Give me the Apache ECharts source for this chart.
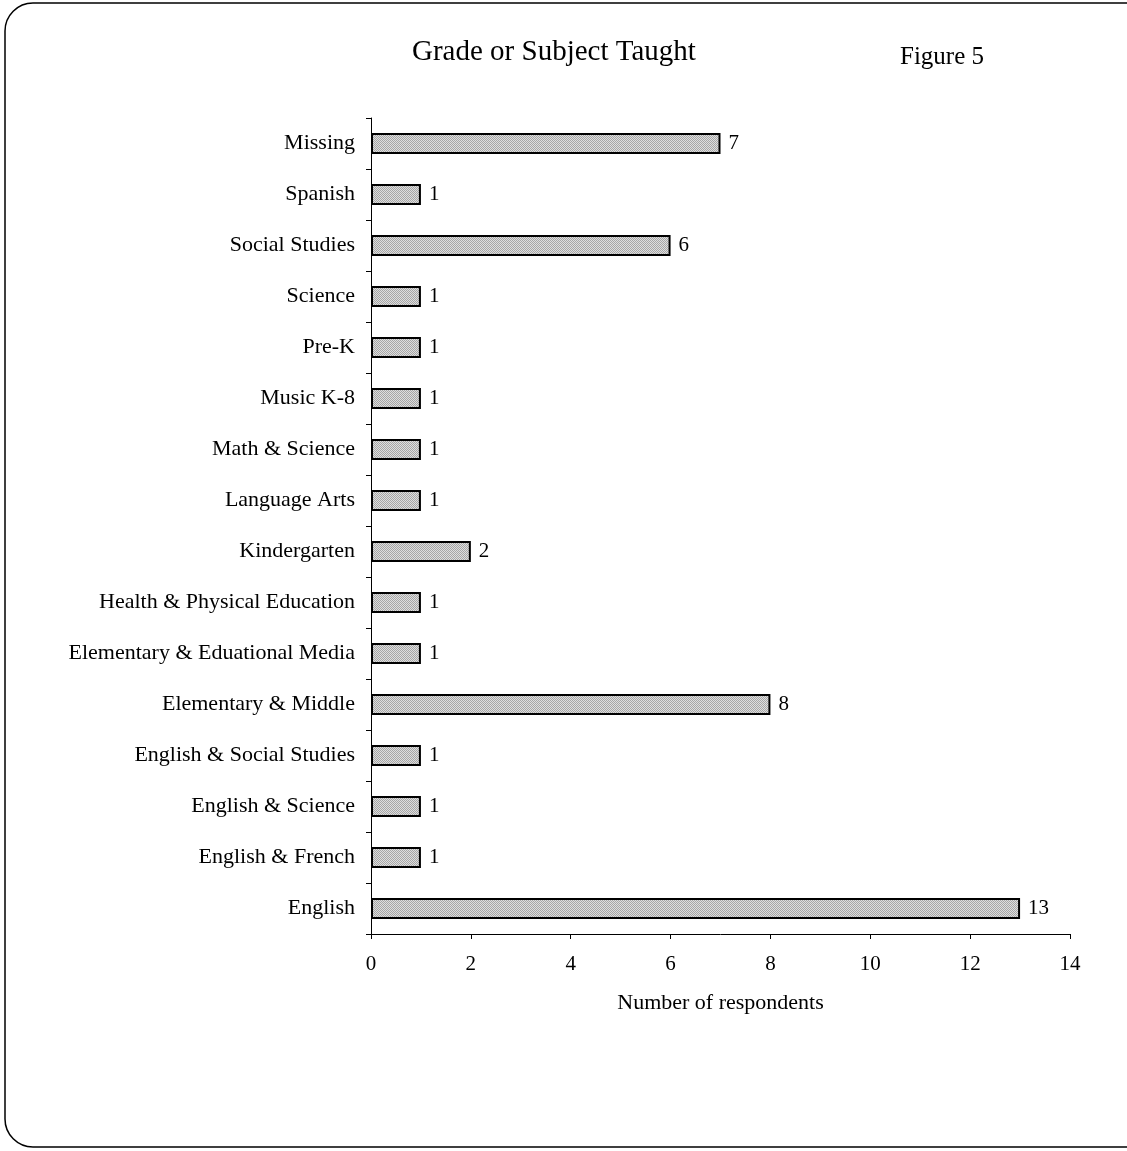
<!DOCTYPE html>
<html>
<head>
<meta charset="utf-8">
<script src="https://cdn.jsdelivr.net/npm/echarts@6/dist/echarts.min.js"></script>
<style>
  html, body { margin: 0; padding: 0; background: #ffffff; }
  #chart { width: 1127px; height: 1151px; }
</style>
</head>
<body>
<div id="chart"></div>
<script>
  // categories listed bottom to top, as the axis draws them
  const categories = [
    'English', 'English & French', 'English & Science', 'English & Social Studies',
    'Elementary & Middle', 'Elementary & Eduational Media', 'Health & Physical Education',
    'Kindergarten', 'Language Arts', 'Math & Science', 'Music K-8', 'Pre-K',
    'Science', 'Social Studies', 'Spanish', 'Missing'
  ];
  const respondents = [13, 1, 1, 1, 8, 1, 1, 2, 1, 1, 1, 1, 1, 6, 1, 7];
  const xTicks = { min: 0, max: 14, interval: 2 };

  // dotted gray fill like the scanned bars
  const pat = document.createElement('canvas');
  pat.width = 2; pat.height = 2;
  const pc = pat.getContext('2d');
  pc.fillStyle = '#dedede'; pc.fillRect(0, 0, 2, 2);
  pc.fillStyle = '#a6a6a6'; pc.fillRect(0, 0, 1, 1); pc.fillRect(1, 1, 1, 1);

  const serif = '"Liberation Serif", "DejaVu Serif", serif';
  const chart = echarts.init(document.getElementById('chart'));

  chart.setOption({
    animation: false,
    textStyle: { fontFamily: serif, color: '#000' },
    graphic: [
      {
        type: 'rect',
        shape: { x: 5, y: 3, width: 1150, height: 1144, r: 28 },
        style: { fill: 'none', stroke: '#000', lineWidth: 1.5 },
        silent: true
      },
      {
        type: 'text', left: 412, top: 38,
        style: { text: 'Grade or Subject Taught', font: '29px ' + serif, fill: '#000' }
      },
      {
        type: 'text', left: 900, top: 45,
        style: { text: 'Figure 5', font: '25px ' + serif, fill: '#000' }
      }
    ],
    grid: { left: 371, right: 57, top: 118, bottom: 217 },
    xAxis: {
      type: 'value',
      min: xTicks.min, max: xTicks.max, interval: xTicks.interval,
      name: 'Number of respondents',
      nameLocation: 'middle',
      nameGap: 58,
      nameTextStyle: { fontSize: 22, fontFamily: serif, color: '#000' },
      axisLine: { show: true, lineStyle: { color: '#000', width: 1 } },
      axisTick: { show: true, length: 5, lineStyle: { color: '#000' } },
      axisLabel: { fontSize: 21, color: '#000', margin: 20, fontFamily: serif },
      splitLine: { show: false }
    },
    yAxis: {
      type: 'category',
      data: categories,
      axisLine: { show: true, lineStyle: { color: '#000', width: 1 } },
      axisTick: { show: true, length: 5, lineStyle: { color: '#000' } },
      axisLabel: { fontSize: 22, color: '#000', margin: 16, fontFamily: serif }
    },
    series: [{
      type: 'bar',
      data: respondents,
      barWidth: 21,
      itemStyle: {
        color: { image: pat, repeat: 'repeat' },
        borderColor: '#000',
        borderWidth: 2
      },
      label: {
        show: true,
        position: 'right',
        distance: 8,
        fontSize: 21,
        color: '#000',
        fontFamily: serif
      }
    }]
  });
</script>
</body>
</html>
